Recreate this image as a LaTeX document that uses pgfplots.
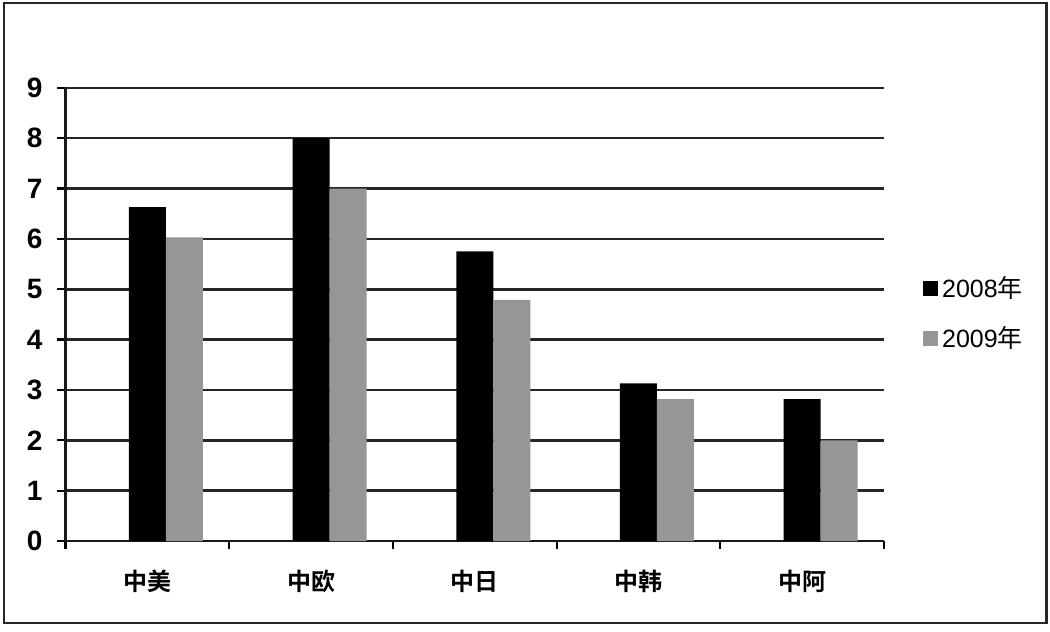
\documentclass[border=0pt]{standalone}
\usepackage{pgfplots}
\pgfplotsset{compat=1.18}
\usepackage{fontspec}
\setmainfont{Liberation Sans}
\newfontfamily\cjk{Noto Sans CJK SC}[BoldFont={Noto Sans CJK SC Bold}]

\definecolor{bar08}{RGB}{0,0,0}
\definecolor{bar09}{RGB}{150,150,150}

\begin{document}
\begin{tikzpicture}[x=0.5pt,y=0.5pt]
% page size and outer frame (pixel units, y up)
\path (0,0) rectangle (1050,632);
\draw[line width=1.1pt, black!85] (4,629) rectangle (1046.5,9);
\begin{axis}[
    at={(32.75pt,45.5pt)}, anchor=south west,
    scale only axis,
    width=409.25pt, height=226.6pt,
    ybar, bar width=18.5pt,
    xmin=-0.5, xmax=4.5,
    ymin=0, ymax=9,
    ytick={0,1,...,9},
    xtick={0,1,2,3,4},
    xticklabels={中美,中欧,中日,中韩,中阿},
    minor xtick={-0.5,0.5,1.5,2.5,3.5,4.5},
    major x tick style={draw=none},
    tick align=outside,
    major tick length=4pt, minor tick length=4pt,
    tick style={black, line width=1.1pt},
    axis lines*=left,
    axis line style={line width=1.3pt, black!90, -},
    ymajorgrids,
    grid style={line width=1.3pt, black!85},
    xticklabel style={font=\cjk\bfseries\fontsize{12}{14}\selectfont, yshift=-7pt},
    yticklabel style={font=\bfseries\fontsize{14}{16}\selectfont, xshift=-4pt},
    /pgf/number format/assume math mode=true,
    legend style={at={(1.04,0.502)}, anchor=west, draw=none, fill=none,
        font=\fontsize{12.5}{14}\selectfont, row sep=8.5pt,
        legend cell align=left},
    legend image code/.code={\fill[#1] (0pt,-3.75pt) rectangle (7.5pt,3.75pt);},
    clip=false,
]
\addplot[fill=bar08, draw=none, bar shift=0pt] coordinates {(0,6.63) (1,8.0) (2,5.75) (3,3.13) (4,2.82)};
\addlegendentry{2008{\cjk 年}}
\addplot[fill=bar09, draw=none, bar shift=18.5pt] coordinates {(0,6.03) (1,7.0) (2,4.79) (3,2.82) (4,2.0)};
\addlegendentry{2009{\cjk 年}}
\end{axis}
\end{tikzpicture}
\end{document}
